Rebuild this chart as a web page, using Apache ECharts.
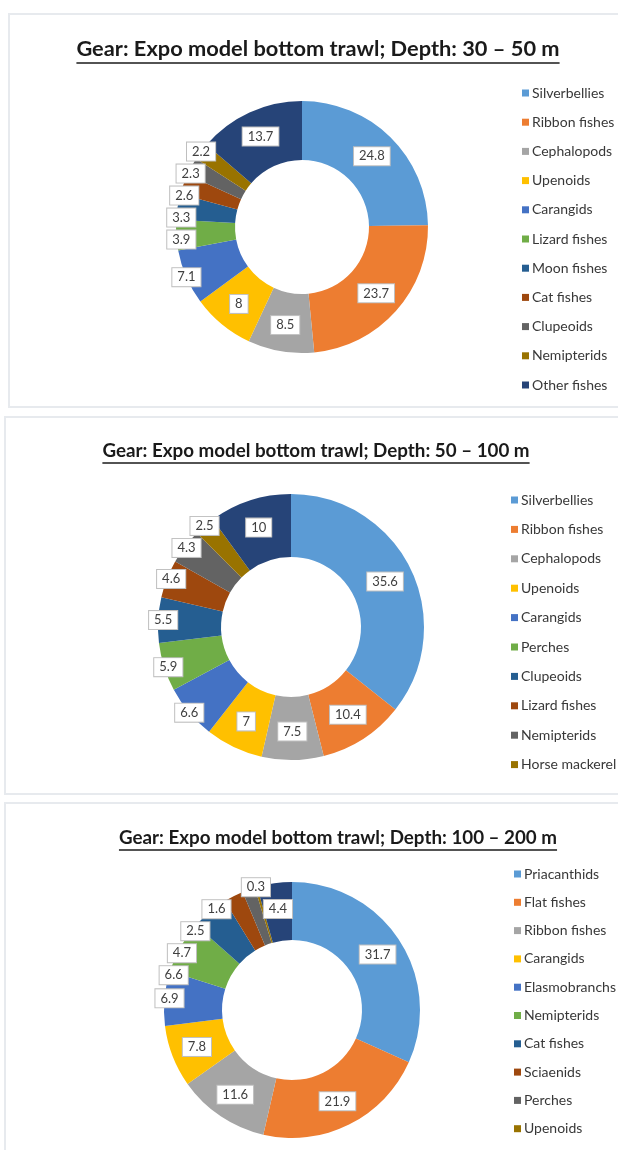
<!DOCTYPE html>
<html>
<head>
<meta charset="utf-8">
<title>Expo model bottom trawl - catch composition</title>
<script src="https://cdn.jsdelivr.net/npm/echarts@6.0.0/dist/echarts.min.js"></script>
<style>
  html, body { margin: 0; padding: 0; background: #fff; }
  body { width: 618px; height: 1150px; overflow: hidden; position: relative; }
  .panel { position: absolute; border: 2px solid #e7eaee; box-sizing: border-box; background: #fff; }
  .panel .chart { position: absolute; left: 0; top: 0; width: 100%; height: 100%; }
  #p1 { left: 8px; top: 13px; width: 640px; height: 395px; }
  #p2 { left: 4px; top: 416px; width: 640px; height: 379px; }
  #p3 { left: 4px; top: 802px; width: 640px; height: 400px; }
</style>
</head>
<body>
  <div class="panel" id="p1"><div class="chart" id="c1"></div></div>
  <div class="panel" id="p2"><div class="chart" id="c2"></div></div>
  <div class="panel" id="p3"><div class="chart" id="c3"></div></div>

<script type="text/javascript">
// --- data (percent of catch) ---
var titles = [
  'Gear: Expo model bottom trawl; Depth: 30 \u2013 50 m',
  'Gear: Expo model bottom trawl; Depth: 50 \u2013 100 m',
  'Gear: Expo model bottom trawl; Depth: 100 \u2013 200 m'
];

var names1 = ['Silverbellies', 'Ribbon fishes', 'Cephalopods', 'Upenoids', 'Carangids', 'Lizard fishes',
              'Moon fishes', 'Cat fishes', 'Clupeoids', 'Nemipterids', 'Other fishes'];
var values1 = [24.8, 23.7, 8.5, 8, 7.1, 3.9, 3.3, 2.6, 2.3, 2.2, 13.7];

var names2 = ['Silverbellies', 'Ribbon fishes', 'Cephalopods', 'Upenoids', 'Carangids', 'Perches',
              'Clupeoids', 'Lizard fishes', 'Nemipterids', 'Horse mackerel', 'Other fishes'];
var values2 = [35.6, 10.4, 7.5, 7, 6.6, 5.9, 5.5, 4.6, 4.3, 2.5, 10];

var names3 = ['Priacanthids', 'Flat fishes', 'Ribbon fishes', 'Carangids', 'Elasmobranchs', 'Nemipterids',
              'Cat fishes', 'Sciaenids', 'Perches', 'Upenoids', 'Other fishes'];
var values3 = [31.7, 21.9, 11.6, 7.8, 6.9, 6.6, 4.7, 2.5, 1.6, 0.3, 4.4];

// office palette
var colors = ['#5b9bd5', '#ed7d31', '#a5a5a5', '#ffc000', '#4472c4', '#70ad47',
              '#255e91', '#9e480e', '#636363', '#997300', '#264478'];

var FONT = 'Lato, "Open Sans", sans-serif';

function isOutside(i) { return i >= 4 && i <= 9; }

function textWidth(str, font) {
  var ctx = document.createElement('canvas').getContext('2d');
  ctx.font = font;
  return ctx.measureText(str).width;
}

function makeOption(cfg) {
  var w = textWidth(cfg.title, 'bold ' + cfg.titleSize + 'px ' + FONT);
  var lineY = cfg.titleY + Math.round(cfg.titleSize * 0.62);

  var data = cfg.values.map(function (v, i) {
    var item = { name: cfg.names[i], value: v, itemStyle: { color: colors[i] } };
    if (isOutside(i)) {
      item.label = { position: 'outside' };
    }
    return item;
  });

  return {
    animation: false,
    graphic: [
      {
        type: 'text',
        x: cfg.titleX, y: cfg.titleY,
        style: {
          text: cfg.title, fill: '#1a1a1a',
          font: 'bold ' + cfg.titleSize + 'px ' + FONT,
          textAlign: 'center', textVerticalAlign: 'middle'
        }
      },
      {
        type: 'line',
        shape: { x1: cfg.titleX - w / 2, y1: lineY, x2: cfg.titleX + w / 2, y2: lineY },
        style: { stroke: '#1a1a1a', lineWidth: 1.5 }
      }
    ],
    legend: {
      orient: 'vertical',
      left: cfg.legendLeft,
      top: cfg.legendTop,
      data: cfg.names.slice(0, cfg.legendCount),
      itemWidth: 7, itemHeight: 7, icon: 'rect',
      itemGap: cfg.legendGap,
      textStyle: { fontFamily: FONT, fontSize: 14, color: '#383838', lineHeight: 14, padding: [0, 0, 0, -2] }
    },
    series: [{
      type: 'pie',
      center: cfg.center,
      radius: cfg.radius,
      startAngle: 90,
      clockwise: true,
      avoidLabelOverlap: true,
      label: {
        show: true,
        position: 'inside',
        formatter: '{c}',
        fontFamily: FONT,
        fontSize: 13,
        color: '#404040',
        backgroundColor: '#ffffff',
        borderColor: '#bfbfbf',
        borderWidth: 1,
        padding: [3, 5, 2, 5]
      },
      labelLine: { show: false, length: 0, length2: 0 },
      // pull the callouts for the thin slices back onto the ring edge
      labelLayout: function (p) {
        if (!isOutside(p.dataIndex)) return {};
        var shift = p.labelRect.width / 2 + 4;
        return { dx: p.align === 'right' ? shift : -shift };
      },
      itemStyle: { borderWidth: 0 },
      emphasis: { disabled: true },
      data: data
    }]
  };
}

var cfgs = [
  { el: 'c1', title: titles[0], titleX: 308, titleY: 34, titleSize: 21.8,
    names: names1, values: values1, legendCount: 11,
    center: [292, 212], radius: [67, 126], legendLeft: 507, legendTop: 66, legendGap: 15.2 },
  { el: 'c2', title: titles[1], titleX: 310, titleY: 33, titleSize: 18.8,
    names: names2, values: values2, legendCount: 10,
    center: [285, 209], radius: [70, 133], legendLeft: 500, legendTop: 70, legendGap: 15.4 },
  { el: 'c3', title: titles[2], titleX: 332, titleY: 34, titleSize: 18.8,
    names: names3, values: values3, legendCount: 10,
    center: [286, 206], radius: [70, 128], legendLeft: 503, legendTop: 58, legendGap: 14.3 }
];

cfgs.forEach(function (cfg) {
  var chart = echarts.init(document.getElementById(cfg.el), null, { renderer: 'canvas' });
  chart.setOption(makeOption(cfg));
});
</script>
</body>
</html>
